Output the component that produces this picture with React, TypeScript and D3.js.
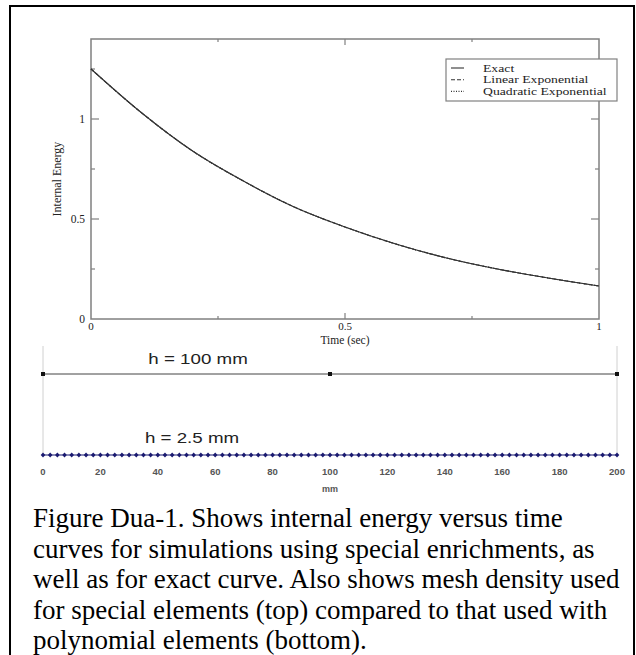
import React from "react";
import * as d3 from "d3";

// ---- Data ----
const timeValues = [0, 0.1, 0.2, 0.3, 0.4, 0.5, 0.6, 0.7, 0.8, 0.9, 1.0];
const exactEnergy = [1.25, 1.03, 0.84, 0.69, 0.56, 0.46, 0.375, 0.305, 0.25, 0.205, 0.165];
const linearExpEnergy = [1.25, 1.03, 0.84, 0.69, 0.56, 0.46, 0.375, 0.305, 0.25, 0.205, 0.165];
const quadExpEnergy = [1.25, 1.03, 0.84, 0.69, 0.56, 0.46, 0.375, 0.305, 0.25, 0.205, 0.165];
const seriesNames = ["Exact", "Linear Exponential", "Quadratic Exponential"];
const xMajorTicks = [0, 0.5, 1];
const xMinorTicks = [0.25, 0.75];
const yMajorTicks = [0, 0.5, 1];
const yMinorTicks = [0.25, 0.75, 1.25];
const xTickLabels = ["0", "0.5", "1"];
const yTickLabels = ["0", "0.5", "1"];

const coarseNodes = [0, 100, 200]; // h = 100 mm
const fineSpacing = 2.5; // h = 2.5 mm
const fineNodes: number[] = d3.range(0, 200 + 1e-9, fineSpacing);
const meshTicks = [0, 20, 40, 60, 80, 100, 120, 140, 160, 180, 200];

const captionLines = [
  "Figure Dua-1. Shows internal energy versus time",
  "curves for simulations using special enrichments, as",
  "well as for exact curve. Also shows mesh density used",
  "for special elements (top) compared to that used with",
  "polynomial elements (bottom).",
];

const serif = "'Liberation Serif', 'Times New Roman', serif";
const sans = "'Liberation Sans', Arial, sans-serif";

function SText(props: { x: number; y: number; sx: number; anchor?: string; family: string; size: number; fill?: string; weight?: string; children: React.ReactNode }) {
  return (
    <text
      transform={`translate(${props.x},${props.y}) scale(${props.sx},1)`}
      textAnchor={props.anchor || "start"}
      fontFamily={props.family}
      fontSize={props.size}
      fontWeight={props.weight || "normal"}
      fill={props.fill || "#222"}
    >
      {props.children}
    </text>
  );
}

export default function App() {
  const W = 636, H = 655;
  const x = d3.scaleLinear().domain([0, 1]).range([91, 599]);
  const y = d3.scaleLinear().domain([0, 1.4]).range([319, 39]);
  const axisColor = "#808080";

  const series = [exactEnergy, linearExpEnergy, quadExpEnergy];
  const dashes = [null, "4,2", "1,1.5"];
  const line = (vals: number[]) =>
    d3.line<number>()
      .x((_, i) => x(timeValues[i]))
      .y((v) => y(v))
      .curve(d3.curveMonotoneX)(vals) || "";

  const mx = d3.scaleLinear().domain([0, 200]).range([43, 617]);
  const coarseY = 374;
  const fineY = 455;

  const legendX = 446, legendY = 59, legendStep = 11.7;

  return (
    <div style={{ position: "absolute", left: 0, top: 0, width: W, height: H, background: "#fff" }}>
      <svg width={W} height={H} style={{ display: "block" }}>
        <defs>
          <clipPath id="meshClip">
            <rect x={20} y={340} width={609} height={160} />
          </clipPath>
        </defs>
        {/* outer frame */}
        <rect x={10} y={6} width={624} height={700} fill="none" stroke="#000" strokeWidth={2} />

        {/* plot box */}
        <rect x={x(0)} y={y(1.4)} width={x(1) - x(0)} height={y(0) - y(1.4)} fill="none" stroke={axisColor} strokeWidth={1.5} />

        {/* x ticks bottom & top */}
        {xMajorTicks.slice(1, -1).map((t) => (
          <g key={"xm" + t}>
            <line x1={x(t)} x2={x(t)} y1={y(0)} y2={y(0) - 6} stroke={axisColor} strokeWidth={1.2} />
            <line x1={x(t)} x2={x(t)} y1={y(1.4)} y2={y(1.4) + 6} stroke={axisColor} strokeWidth={1.2} />
          </g>
        ))}
        {xMinorTicks.map((t) => (
          <g key={"xn" + t}>
            <line x1={x(t)} x2={x(t)} y1={y(0)} y2={y(0) - 3} stroke={axisColor} strokeWidth={1.2} />
            <line x1={x(t)} x2={x(t)} y1={y(1.4)} y2={y(1.4) + 3} stroke={axisColor} strokeWidth={1.2} />
          </g>
        ))}
        {/* y ticks left & right */}
        {yMajorTicks.slice(1).map((t) => (
          <g key={"ym" + t}>
            <line x1={x(0)} x2={x(0) + 8} y1={y(t)} y2={y(t)} stroke={axisColor} strokeWidth={1.2} />
            <line x1={x(1)} x2={x(1) - 8} y1={y(t)} y2={y(t)} stroke={axisColor} strokeWidth={1.2} />
          </g>
        ))}
        {yMinorTicks.map((t) => (
          <g key={"yn" + t}>
            <line x1={x(0)} x2={x(0) + 4} y1={y(t)} y2={y(t)} stroke={axisColor} strokeWidth={1.2} />
            <line x1={x(1)} x2={x(1) - 4} y1={y(t)} y2={y(t)} stroke={axisColor} strokeWidth={1.2} />
          </g>
        ))}

        {/* tick labels */}
        {xMajorTicks.map((t, i) => (
          <text key={"xl" + t} x={x(t)} y={330} textAnchor="middle" fontFamily={serif} fontSize={11} fill="#222">
            {xTickLabels[i]}
          </text>
        ))}
        {yMajorTicks.map((t, i) => (
          <text key={"yl" + t} x={85} y={y(t) + 4} textAnchor="end" fontFamily={serif} fontSize={11.5} fill="#222">
            {yTickLabels[i]}
          </text>
        ))}
        <text x={x(0.5)} y={344} textAnchor="middle" fontFamily={serif} fontSize={11.5} fill="#222">Time (sec)</text>
        <text transform={`translate(61,${(y(0) + y(1.4)) / 2}) rotate(-90)`} textAnchor="middle" fontFamily={serif} fontSize={12} fill="#222">
          Internal Energy
        </text>

        {/* curves */}
        {series.map((vals, i) => (
          <path key={"s" + i} d={line(vals)} fill="none" stroke="#333" strokeWidth={1.1} strokeDasharray={dashes[i] || undefined} />
        ))}

        {/* legend */}
        <rect x={legendX} y={legendY} width={171} height={42} fill="#fff" stroke={axisColor} strokeWidth={1.2} />
        {seriesNames.map((n, i) => (
          <g key={"lg" + i}>
            <line x1={legendX + 5} x2={legendX + 18} y1={legendY + 9 + i * legendStep} y2={legendY + 9 + i * legendStep} stroke="#333" strokeWidth={1.1} strokeDasharray={dashes[i] || undefined} />
            <SText x={legendX + 37} y={legendY + 12.5 + i * legendStep} sx={1.4} family={serif} size={9.8}>{n}</SText>
          </g>
        ))}

        {/* mesh illustration */}
        <g clipPath="url(#meshClip)">
          <line x1={mx(0)} x2={mx(0)} y1={346} y2={fineY} stroke="#d0d0d0" strokeWidth={1} />
          <line x1={mx(200)} x2={mx(200)} y1={346} y2={fineY} stroke="#d0d0d0" strokeWidth={1} />
          <line x1={mx(0)} x2={mx(200)} y1={coarseY} y2={coarseY} stroke="#444" strokeWidth={1} />
          {coarseNodes.map((n) => (
            <rect key={"c" + n} x={mx(n) - 2} y={coarseY - 2} width={4} height={4} fill="#111" />
          ))}
          <SText x={198} y={364} sx={1.25} anchor="middle" family={sans} size={15}>h = 100 mm</SText>

          <line x1={mx(0)} x2={mx(200)} y1={fineY} y2={fineY} stroke="#1a1a70" strokeWidth={1.2} />
          {fineNodes.map((n) => (
            <path key={"f" + n} d={`M${mx(n)},${fineY - 2.5} L${mx(n) + 2.3},${fineY} L${mx(n)},${fineY + 2.5} L${mx(n) - 2.3},${fineY} Z`} fill="#1a1a70" />
          ))}
          <SText x={192} y={443} sx={1.25} anchor="middle" family={sans} size={15}>h = 2.5 mm</SText>

          {meshTicks.map((t) => (
            <text key={"mt" + t} x={mx(t)} y={475} textAnchor="middle" fontFamily={sans} fontSize={9.5} fontWeight="bold" fill="#555">{t}</text>
          ))}
          <text x={mx(100)} y={492} textAnchor="middle" fontFamily={sans} fontSize={9} fontWeight="bold" fill="#555">mm</text>
        </g>

        {/* caption */}
        {captionLines.map((l, i) => (
          <text key={"cap" + i} x={33} y={527 + i * 30.5} fontFamily={serif} fontSize={27} fill="#000">{l}</text>
        ))}
      </svg>
    </div>
  );
}
